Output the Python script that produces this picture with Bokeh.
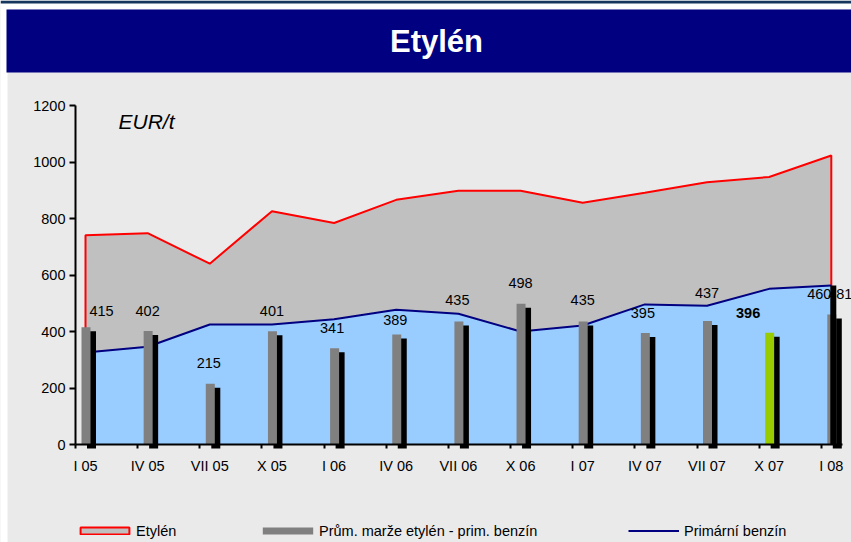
from bokeh.plotting import figure
from bokeh.models import ColumnDataSource, FixedTicker, Legend, LegendItem, Range1d
from bokeh.embed import file_html
from bokeh.resources import INLINE
from bokeh.core.properties import value

# ---------------- data ----------------
categories = ["I 05", "IV 05", "VII 05", "X 05", "I 06", "IV 06", "VII 06",
              "X 06", "I 07", "IV 07", "VII 07", "X 07", "I 08"]
etylen = [741, 748, 640, 826, 784, 866, 898, 898, 856, 891, 928, 947, 1023]
benzin = [326, 346, 425, 425, 443, 477, 463, 400, 421, 496, 491, 551, 563]
marze = [415, 402, 215, 401, 341, 389, 435, 498, 435, 395, 437, 396, 460]
extra_label = "481"
y_ticks = [0, 200, 400, 600, 800, 1000, 1200]
highlight = 11  # X 07 highlighted in green

# ---------------- layout (label placement) ----------------
label_y = [474, 474, 287, 474, 411, 439, 510, 573, 510, 467, 538, 464, 531]
label_dx = [16, 0, -1, 0, -2, -1, -1, 0, 0, -2, 0, -21, -12]

FONT = "Liberation Sans"
BG = "#EAEAEA"
W, H = 851, 542
PX = 62.15            # pixels per category
YPX = 339 / 1200      # pixels per unit
FS = "14.5px"
X_ORG, Y_ORG = 85, 444   # pixel position of first category / zero line


def sx(px):   # page pixel -> data x (for decoration placement)
    return (px - X_ORG) / PX


def sy(py):   # page pixel -> data y (for decoration placement)
    return (Y_ORG - py) / YPX


idx = list(range(len(categories)))

p = figure(width=W, height=H,
           x_range=Range1d(sx(0), sx(W)), y_range=Range1d(sy(H), sy(0)),
           output_backend="svg", toolbar_location=None,
           min_border_left=0, min_border_right=0, min_border_top=0, min_border_bottom=0,
           background_fill_color=BG, border_fill_color=BG, outline_line_color=None)
p.grid.visible = False

# page decoration: white margins, dark top rule, navy title band
p.quad(left=sx(0), right=sx(7), bottom=sy(H), top=sy(0), fill_color="white", line_color=None)
p.quad(left=sx(0), right=sx(W), bottom=sy(9), top=sy(0), fill_color="white", line_color=None)
p.quad(left=sx(0), right=sx(W), bottom=sy(3), top=sy(0), fill_color="#17365D", line_color=None)
p.quad(left=sx(6), right=sx(W), bottom=sy(72), top=sy(9), fill_color="#000080", line_color=None)
p.text(x=[sx(436)], y=[sy(40.5)], text=["Etylén"],
       text_align="center", text_baseline="middle", text_color="white",
       text_font=value(FONT), text_font_style="bold", text_font_size=value("31px"))

# Etylén area
p.varea(x=idx, y1=[0] * len(idx), y2=etylen, fill_color="#C0C0C0")
p.line(x=[idx[0]] + idx + [idx[-1]], y=[0] + etylen + [0],
       line_color="#FF0000", line_width=2)

# Primární benzín area
p.varea(x=idx, y1=[0] * len(idx), y2=benzin, fill_color="#99CCFF")
benz_line = p.line(x=idx, y=benzin, line_color="#000080", line_width=2)

# margin bars with shadow
p.vbar(x=[i + 6 / PX for i in idx], width=9 / PX, bottom=-4 / YPX,
       top=[m - 4 / YPX for m in marze], fill_color="black", line_color=None)
bar_colors = ["#99CC00" if i == highlight else "#808080" for i in idx]
p.vbar(x=[i + 0.5 / PX for i in idx], width=9 / PX, bottom=0, top=marze,
       fill_color=bar_colors, line_color=None)

# labels
norm = [i for i in idx if i != highlight]
src_n = ColumnDataSource(dict(x=[idx[i] for i in norm], y=[label_y[i] for i in norm],
                              text=[str(marze[i]) for i in norm],
                              dx=[label_dx[i] for i in norm]))
p.text(x="x", y="y", text="text", x_offset="dx", source=src_n,
       text_align="center", text_baseline="middle", text_color="black",
       text_font=value(FONT), text_font_size=value(FS))
p.text(x=[idx[highlight]], y=[label_y[highlight]], text=[str(marze[highlight])],
       x_offset=label_dx[highlight], text_align="center", text_baseline="middle",
       text_color="black", text_font=value(FONT), text_font_style="bold",
       text_font_size=value(FS))
p.text(x=[idx[-1]], y=[label_y[-1]], text=[extra_label], x_offset=9,
       text_align="center", text_baseline="middle", text_color="black",
       text_font=value(FONT), text_font_size=value(FS))
p.vbar(x=[idx[-1] + 2 / PX], width=6 / PX, bottom=0, top=[benzin[-1]],
       fill_color="black", line_color=None)

# unit text
p.text(x=[sx(118)], y=[sy(121)], text=["EUR/t"], text_align="left", text_baseline="middle",
       text_color="black", text_font=value(FONT), text_font_style="italic",
       text_font_size=value("21px"))

# axes (drawn at fixed data locations, bounded to the plot area)
xa = p.xaxis[0]
xa.fixed_location = 0
xa.ticker = FixedTicker(ticks=idx, minor_ticks=[i - 10 / PX for i in idx])
xa.major_label_overrides = {i: c for i, c in zip(idx, categories)}
xa.bounds = (sx(75), sx(842))
xa.axis_line_color = "black"
xa.axis_line_width = 2
xa.major_tick_out = 0
xa.major_tick_in = 0
xa.minor_tick_out = 4
xa.minor_tick_in = 0
xa.minor_tick_line_width = 2
xa.minor_tick_line_color = "black"
xa.major_label_standoff = 9
xa.major_label_text_font = FONT
xa.major_label_text_font_size = FS
xa.major_label_text_color = "black"

ya = p.yaxis[0]
ya.fixed_location = sx(75)
ya.ticker = FixedTicker(ticks=y_ticks)
ya.bounds = (0, 1200)
ya.axis_line_color = "black"
ya.axis_line_width = 2
ya.major_tick_out = 6
ya.major_tick_in = 0
ya.major_tick_line_width = 2
ya.major_tick_line_color = "black"
ya.minor_tick_out = 0
ya.minor_tick_in = 0
ya.major_label_standoff = 4
ya.major_label_text_font = FONT
ya.major_label_text_font_size = FS
ya.major_label_text_color = "black"

# legend swatches (off-canvas proxies, only their styling is used by the legend)
leg_area = p.rect(x=[sx(-100)], y=[sy(-100)], width=1, height=1,
                  fill_color="#C0C0C0", line_color="#FF0000", line_width=2)
leg_bar = p.rect(x=[sx(-100)], y=[sy(-100)], width=1, height=1,
                 fill_color="#808080", line_color=None)


def add_legend(label, rends, left_px, gw, gh, standoff):
    lg = Legend(items=[LegendItem(label=label, renderers=rends)],
                location=(left_px, H - 539),
                glyph_width=gw, glyph_height=gh, label_height=17, label_standoff=standoff,
                padding=0, margin=0, spacing=0, border_line_color=None,
                background_fill_alpha=0, label_text_font=FONT,
                label_text_font_size=FS, label_text_color="black")
    p.add_layout(lg)


add_legend("Etylén", [leg_area], 74, 61, 9, 1)
add_legend("Prům. marže etylén - prim. benzín", [leg_bar], 256, 63, 9, 0)
add_legend("Primární benzín", [benz_line], 628, 51, 17, 5)

open("out.html", "w").write(file_html(p, INLINE))
